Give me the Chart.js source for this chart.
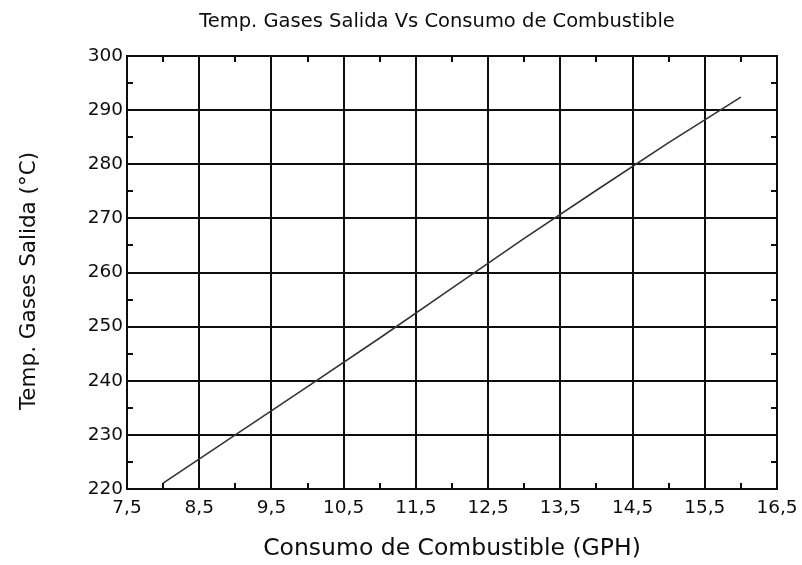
<!DOCTYPE html>
<html>
<head>
<meta charset="utf-8">
<script src="https://cdn.jsdelivr.net/npm/chart.js@4.4.1/dist/chart.umd.min.js"></script>
<style>
html,body{margin:0;padding:0;background:#fff;}
#wrap{width:802px;height:565px;position:relative;}
</style>
</head>
<body>
<div id="wrap"><canvas id="c" width="802" height="565"></canvas></div>
<script>
// Data
const consumo = [8, 9, 10, 11, 12, 13, 14, 15, 16];            // GPH
const temperatura = [221.1, 230, 238.9, 247.9, 257.1, 266.3, 275.2, 284, 292.4]; // °C
const xTicks = [7.5, 8.5, 9.5, 10.5, 11.5, 12.5, 13.5, 14.5, 15.5, 16.5];
const yTicks = [220, 230, 240, 250, 260, 270, 280, 290, 300];
const xMinor = [8, 9, 10, 11, 12, 13, 14, 15, 16];
const yMinor = [225, 235, 245, 255, 265, 275, 285, 295];
const chartTitle = 'Temp. Gases Salida Vs Consumo de Combustible';
const xTitle = 'Consumo de Combustible (GPH)';
const yTitle = 'Temp. Gases Salida (°C)';

const INK = '#0d0d0d';
const FONT = "'DejaVu Sans', 'Liberation Sans', Arial, sans-serif";

const framePlugin = {
  id: 'frame',
  afterDatasetsDraw(chart) {
    const {ctx, chartArea: a, scales: {x, y}} = chart;
    ctx.save();
    ctx.strokeStyle = INK;
    ctx.lineWidth = 2;
    ctx.strokeRect(a.left, a.top, a.right - a.left, a.bottom - a.top);
    // minor ticks, inward on all four sides
    const L = 6;
    ctx.beginPath();
    xMinor.forEach(v => {
      const px = Math.round(x.getPixelForValue(v));
      ctx.moveTo(px, a.bottom); ctx.lineTo(px, a.bottom - L);
      ctx.moveTo(px, a.top); ctx.lineTo(px, a.top + L);
    });
    yMinor.forEach(v => {
      const py = Math.round(y.getPixelForValue(v));
      ctx.moveTo(a.left, py); ctx.lineTo(a.left + L, py);
      ctx.moveTo(a.right, py); ctx.lineTo(a.right - L, py);
    });
    ctx.stroke();
    // chart title
    ctx.fillStyle = INK;
    ctx.font = '19.5px ' + FONT;
    ctx.textAlign = 'center';
    ctx.textBaseline = 'middle';
    ctx.fillText(chartTitle, 437, 22);
    // y axis title
    ctx.translate(29, 281);
    ctx.rotate(-Math.PI / 2);
    ctx.font = '21.5px ' + FONT;
    ctx.fillText(yTitle, 0, 0);
    ctx.restore();
  }
};

new Chart(document.getElementById('c'), {
  type: 'line',
  data: {
    datasets: [{
      data: consumo.map((v, i) => ({x: v, y: temperatura[i]})),
      borderColor: '#333',
      borderWidth: 1.6,
      pointRadius: 0,
      fill: false,
      tension: 0
    }]
  },
  options: {
    responsive: false,
    animation: false,
    layout: {padding: {left: 0, top: 56, right: 25, bottom: 0}},
    plugins: {legend: {display: false}, tooltip: {enabled: false}, title: {display: false}},
    scales: {
      x: {
        type: 'linear',
        min: 7.5, max: 16.5,
        afterBuildTicks: s => { s.ticks = xTicks.map(v => ({value: v})); },
        afterFit: s => { s.height = 76; s.paddingLeft = 0; s.paddingRight = 0; },
        grid: {color: INK, lineWidth: 2, drawTicks: false},
        border: {display: true, color: INK, width: 2},
        ticks: {
          color: INK, padding: 8,
          font: {family: FONT, size: 18.5},
          callback: v => Number(v).toFixed(1).replace('.', ',')
        },
        title: {display: true, text: xTitle, color: INK, font: {family: FONT, size: 23.5}, padding: {top: 0, bottom: 2}}
      },
      y: {
        type: 'linear',
        min: 220, max: 300,
        afterBuildTicks: s => { s.ticks = yTicks.map(v => ({value: v})); },
        afterFit: s => { s.width = 127; s.paddingTop = 0; s.paddingBottom = 0; },
        grid: {color: INK, lineWidth: 2, drawTicks: false},
        border: {display: true, color: INK, width: 2},
        ticks: {
          color: INK, padding: 4,
          font: {family: FONT, size: 18.5},
          callback: v => String(v)
        },
        title: {display: false}
      }
    }
  },
  plugins: [framePlugin]
});
</script>
</body>
</html>
